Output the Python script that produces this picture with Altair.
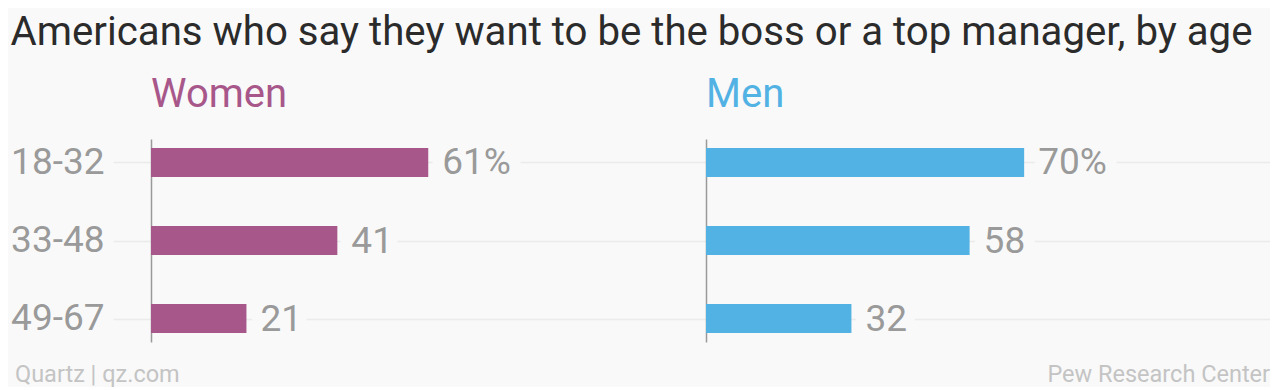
import altair as alt
import pandas as pd

# ---- data ----
ages = ["18-32", "33-48", "49-67"]
women = [61, 41, 21]
men = [70, 58, 32]
panel_names = ["Women", "Men"]
title_text = "Americans who say they want to be the boss or a top manager, by age"
source_left = "Quartz | qz.com"
source_right = "Pew Research Center"

# ---- style ----
PURPLE = "#a8578a"
BLUE = "#52b2e4"
BG = "#f9f9f9"
GRID = "#ebebeb"
LABEL = "#9a9a9a"
FOOT = "#c4c4c4"
FONT = "Roboto"
NUM_SIZE = 37
H = 203


def frame(values):
    return pd.DataFrame({
        "age": ages,
        "value": values,
        "label": [f"{v}%" if i == 0 else f"{v}" for i, v in enumerate(values)],
    })


def panel(values, name, color, width, xmax, left, footer, footer_x, footer_align):
    df = frame(values)
    yaxis = alt.Axis(
        title=None, labels=left, ticks=left,
        labelFont=FONT, labelFontSize=NUM_SIZE, labelColor=LABEL, labelPadding=9,
        tickSize=38, tickColor=GRID, tickWidth=1.5,
        domainColor="#9a9a9a", domainWidth=1.5,
        grid=True, gridColor=GRID, gridWidth=1.5,
    )
    base = alt.Chart(df).encode(
        y=alt.Y("age:N", sort=ages, scale=alt.Scale(type="point", padding=0.3), axis=yaxis),
        x=alt.X("value:Q", scale=alt.Scale(domain=[0, xmax], nice=False, zero=True), axis=None),
    )
    bars = base.mark_bar(size=29, color=color)
    halo = base.mark_text(
        align="left", baseline="middle", dx=14, dy=1, font=FONT, fontSize=NUM_SIZE,
        fill=BG, stroke=BG, strokeWidth=24, strokeJoin="round",
    ).encode(text="label:N")
    txt = base.mark_text(
        align="left", baseline="middle", dx=14, dy=1, font=FONT, fontSize=NUM_SIZE, fill=LABEL,
    ).encode(text="label:N")
    foot = alt.Chart(pd.DataFrame({"t": [footer]})).mark_text(
        align=footer_align, baseline="alphabetic", font=FONT, fontSize=23.5, color=FOOT,
    ).encode(text="t:N", x=alt.value(footer_x), y=alt.value(H + 40))
    return alt.layer(bars, halo, txt, foot).properties(
        width=width, height=H,
        title=alt.TitleParams(
            name, anchor="start", frame="group", color=color, fontSize=40,
            font=FONT, fontWeight="normal", baseline="alphabetic", offset=-8,
        ),
    )


W_W, W_M = 555, 564
PX = 4.545
left_panel = panel(women, panel_names[0], PURPLE, W_W, W_W / PX, True, source_left, -136, "left")
right_panel = panel(men, panel_names[1], BLUE, W_M, W_M / PX, False, source_right, W_M, "right")

chart = alt.hconcat(left_panel, right_panel, spacing=0).properties(
    title=alt.TitleParams(
        title_text, anchor="start", fontSize=40.2, font=FONT, fontWeight="normal",
        color="#2b2b2b", offset=22,
    ),
    padding={"left": 2, "top": 4, "right": 0, "bottom": 0},
    background=BG,
).configure_view(stroke=None)

chart.save("out.html", embed_options={"renderer": "svg", "actions": False})
